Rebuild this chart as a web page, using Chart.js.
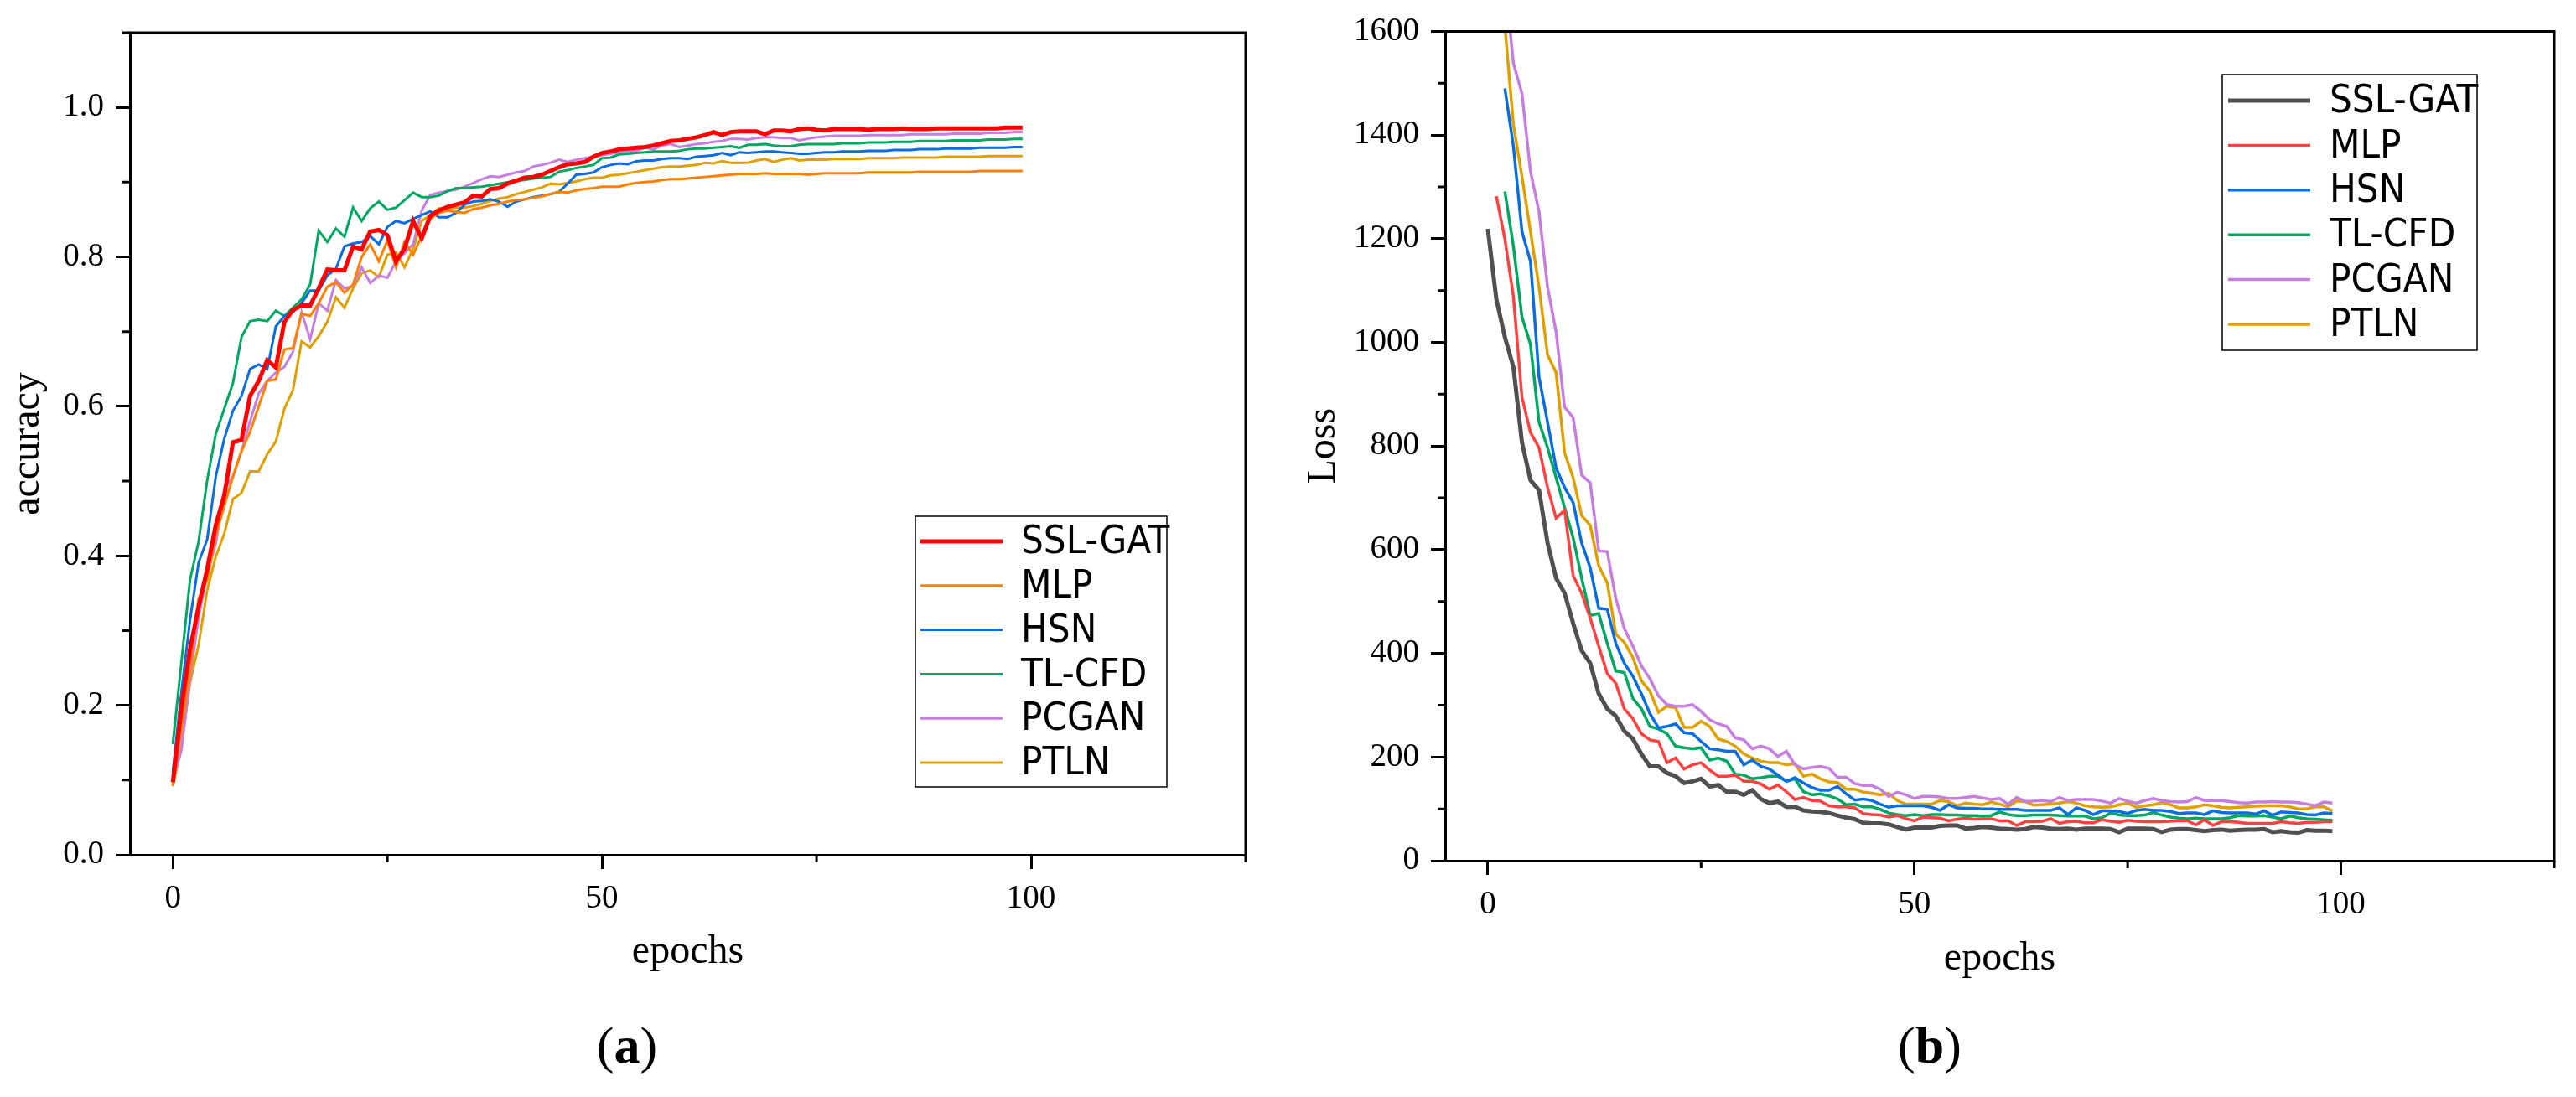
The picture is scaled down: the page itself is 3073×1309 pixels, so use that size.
<!DOCTYPE html>
<html>
<head>
<meta charset="utf-8">
<script src="https://cdn.jsdelivr.net/npm/chart.js@4.4.1/dist/chart.umd.min.js"></script>
<style>
  body { margin: 0; background: #fff; width: 3073px; height: 1309px; overflow: hidden; position: relative; }
  .panel { position: absolute; top: 0; height: 1309px; }
  #panelA { left: 0; width: 1536px; }
  #panelB { left: 1536px; width: 1537px; }
  .sub { position: absolute; top: 1212px; font-family: 'Liberation Serif', serif; font-size: 62px; color: #000; transform: translateX(-50%); }
  .sub b { font-weight: bold; }
</style>
</head>
<body>
<div class="panel" id="panelA"><canvas id="chartA"></canvas></div>
<div class="panel" id="panelB"><canvas id="chartB"></canvas></div>
<div class="sub" style="left:748px">(<b>a</b>)</div>
<div class="sub" style="left:2302px">(<b>b</b>)</div>
<script>
'use strict';

let epochs = [];
for (let i = 0; i < 100; i++) epochs.push(i);

let seriesNames = ['SSL-GAT', 'MLP', 'HSN', 'TL-CFD', 'PCGAN', 'PTLN'];

// (a) accuracy
let accSSL = [0.097,0.196,0.275,0.332,0.382,0.441,0.481,0.552,0.555,0.614,
  0.634,0.662,0.652,0.713,0.729,0.735,0.735,0.758,0.783,0.782,
  0.782,0.814,0.810,0.834,0.836,0.829,0.794,0.811,0.848,0.825,
  0.855,0.862,0.867,0.870,0.873,0.882,0.881,0.891,0.892,0.898,
  0.902,0.906,0.907,0.910,0.915,0.920,0.924,0.925,0.927,0.934,
  0.939,0.941,0.944,0.945,0.946,0.947,0.949,0.952,0.955,0.956,
  0.958,0.960,0.963,0.967,0.963,0.967,0.968,0.968,0.968,0.964,
  0.969,0.969,0.968,0.971,0.972,0.970,0.969,0.971,0.971,0.971,
  0.971,0.970,0.971,0.971,0.971,0.972,0.971,0.971,0.971,0.972,
  0.972,0.972,0.972,0.972,0.972,0.972,0.972,0.973,0.973,0.973];
let accMLP = [0.092,0.168,0.247,0.343,0.368,0.427,0.467,0.506,0.540,0.566,
  0.600,0.634,0.636,0.676,0.678,0.724,0.721,0.738,0.760,0.766,
  0.752,0.763,0.800,0.817,0.794,0.822,0.786,0.820,0.803,0.828,
  0.851,0.859,0.862,0.860,0.859,0.864,0.866,0.869,0.871,0.874,
  0.876,0.877,0.879,0.881,0.884,0.887,0.886,0.889,0.891,0.892,
  0.894,0.894,0.894,0.897,0.899,0.900,0.901,0.903,0.904,0.904,
  0.905,0.906,0.907,0.908,0.909,0.910,0.911,0.911,0.911,0.912,
  0.911,0.911,0.911,0.911,0.910,0.911,0.912,0.912,0.912,0.912,
  0.912,0.913,0.913,0.913,0.913,0.913,0.913,0.914,0.914,0.914,
  0.914,0.914,0.914,0.914,0.915,0.915,0.915,0.915,0.915,0.915];
let accHSN = [0.111,0.218,0.314,0.391,0.422,0.506,0.557,0.594,0.614,0.650,
  0.656,0.650,0.707,0.721,0.726,0.738,0.755,0.755,0.775,0.784,
  0.814,0.818,0.820,0.828,0.817,0.840,0.848,0.845,0.851,0.856,
  0.861,0.853,0.853,0.859,0.870,0.874,0.875,0.877,0.874,0.867,
  0.874,0.877,0.880,0.882,0.884,0.887,0.898,0.910,0.911,0.913,
  0.920,0.923,0.925,0.924,0.928,0.929,0.929,0.931,0.932,0.932,
  0.931,0.934,0.935,0.936,0.939,0.936,0.940,0.939,0.940,0.941,
  0.941,0.940,0.939,0.938,0.938,0.939,0.940,0.940,0.941,0.941,
  0.941,0.942,0.942,0.942,0.943,0.943,0.943,0.944,0.944,0.944,
  0.945,0.945,0.945,0.945,0.946,0.946,0.946,0.946,0.947,0.947];
let accTL = [0.148,0.258,0.368,0.419,0.501,0.563,0.597,0.631,0.693,0.714,
  0.716,0.714,0.728,0.721,0.732,0.743,0.763,0.835,0.820,0.838,
  0.827,0.866,0.848,0.865,0.874,0.863,0.866,0.876,0.886,0.880,
  0.880,0.882,0.888,0.892,0.892,0.893,0.894,0.896,0.898,0.900,
  0.902,0.903,0.905,0.906,0.907,0.914,0.916,0.919,0.921,0.923,
  0.932,0.933,0.937,0.938,0.939,0.940,0.941,0.941,0.941,0.942,
  0.944,0.945,0.945,0.946,0.947,0.948,0.946,0.950,0.950,0.951,
  0.949,0.948,0.948,0.950,0.951,0.951,0.951,0.951,0.952,0.952,
  0.952,0.953,0.953,0.953,0.954,0.954,0.954,0.955,0.955,0.955,
  0.955,0.956,0.956,0.956,0.956,0.957,0.957,0.957,0.958,0.958];
let accPCGAN = [0.100,0.140,0.236,0.317,0.376,0.416,0.489,0.506,0.540,0.580,
  0.617,0.634,0.645,0.653,0.673,0.726,0.690,0.738,0.728,0.769,
  0.758,0.761,0.786,0.765,0.775,0.772,0.794,0.805,0.817,0.862,
  0.883,0.886,0.888,0.890,0.894,0.899,0.904,0.908,0.907,0.910,
  0.913,0.915,0.921,0.923,0.926,0.930,0.927,0.930,0.932,0.934,
  0.936,0.938,0.940,0.941,0.942,0.946,0.944,0.949,0.951,0.947,
  0.949,0.951,0.952,0.954,0.955,0.958,0.958,0.957,0.959,0.960,
  0.960,0.959,0.959,0.956,0.958,0.960,0.961,0.962,0.962,0.962,
  0.962,0.963,0.963,0.963,0.963,0.963,0.964,0.964,0.964,0.964,
  0.964,0.965,0.965,0.965,0.965,0.966,0.966,0.966,0.967,0.967];
let accPTLN = [0.092,0.145,0.230,0.281,0.354,0.399,0.430,0.476,0.484,0.513,
  0.513,0.536,0.553,0.597,0.622,0.687,0.679,0.694,0.713,0.746,
  0.732,0.758,0.778,0.782,0.773,0.803,0.806,0.786,0.811,0.848,
  0.856,0.865,0.864,0.866,0.866,0.868,0.871,0.875,0.878,0.880,
  0.884,0.887,0.890,0.893,0.898,0.897,0.899,0.901,0.904,0.906,
  0.906,0.909,0.910,0.912,0.914,0.916,0.918,0.920,0.921,0.921,
  0.922,0.923,0.926,0.925,0.928,0.926,0.926,0.926,0.929,0.931,
  0.927,0.930,0.932,0.929,0.930,0.930,0.930,0.931,0.931,0.931,
  0.931,0.932,0.932,0.932,0.932,0.933,0.933,0.933,0.933,0.933,
  0.934,0.934,0.934,0.934,0.934,0.935,0.935,0.935,0.935,0.935];

// (b) loss
let lossSSL = [1219,1083,1010,952,807,734,715,613,545,516,
  458,405,381,322,293,279,250,235,206,182,
  182,169,163,150,153,158,143,146,133,133,
  127,136,119,111,114,104,104,97,95,94,
  92,87,83,80,73,72,72,70,65,60,
  64,64,64,67,68,68,62,63,65,64,
  62,61,60,61,65,64,62,61,62,60,
  62,62,62,61,55,62,62,62,61,55,
  60,61,61,59,57,59,60,58,59,60,
  60,61,55,57,55,54,59,58,58,57];
let lossMLP = [null,1282,1199,1088,894,826,797,720,661,676,
  550,516,468,414,361,342,293,274,245,233,
  230,189,198,177,185,189,175,163,163,165,
  153,153,148,138,146,133,118,122,116,115,
  106,104,104,102,91,89,88,84,87,81,
  77,84,83,82,77,80,82,80,81,81,
  77,77,68,75,75,76,81,72,75,76,
  73,73,79,76,74,78,76,75,75,75,
  76,77,77,69,79,68,75,75,74,72,
  72,72,72,75,73,72,74,74,75,75];
let lossHSN = [null,null,1490,1378,1214,1156,933,846,758,720,
  691,613,565,487,485,419,381,356,322,284,
  256,259,264,247,245,230,216,214,211,211,
  185,194,182,177,165,153,160,150,141,136,
  136,143,129,117,119,116,109,103,106,106,
  106,106,103,97,108,102,101,101,100,100,
  99,99,99,97,97,97,97,102,89,102,
  97,89,96,96,95,91,97,99,97,97,
  95,91,92,92,89,96,93,92,92,92,
  90,96,88,94,93,92,89,88,92,91];
let lossTL = [null,null,1291,1185,1049,996,846,797,739,681,
  623,545,473,477,419,366,363,313,293,259,
  254,245,221,218,216,218,194,198,192,167,
  165,158,160,163,163,153,158,133,127,129,
  125,119,108,109,104,104,99,92,89,87,
  89,87,89,89,88,88,87,87,86,87,
  94,89,87,87,88,88,88,87,86,86,
  86,81,83,92,88,87,87,88,93,88,
  84,82,81,82,81,81,81,83,87,86,
  86,87,84,81,86,83,81,80,79,78];
let lossPCGAN = [null,null,1700,1538,1480,1330,1252,1107,1020,875,
  855,744,729,598,596,506,448,414,376,351,
  318,301,298,298,301,288,272,264,259,237,
  233,216,221,216,201,211,185,177,180,182,
  178,161,161,149,145,145,138,124,132,127,
  120,124,124,123,120,120,122,124,121,118,
  120,109,122,114,115,116,114,122,116,118,
  118,118,115,111,120,115,111,116,120,116,
  114,113,114,122,116,116,116,114,112,111,
  113,113,114,113,113,112,109,106,113,111];
let lossPTLN = [null,null,1610,1420,1320,1214,1107,976,942,787,
  739,666,647,569,536,437,421,392,347,327,
  286,298,295,257,257,269,259,235,230,221,
  206,198,192,189,189,185,187,163,167,158,
  152,151,138,138,132,130,127,130,116,109,
  109,109,109,116,114,106,111,109,108,113,
  109,104,115,114,107,108,109,111,114,111,
  106,104,103,104,108,111,103,106,108,112,
  108,102,102,104,108,106,103,102,103,104,
  105,106,106,106,104,100,100,104,104,96];

// ticks
let epochTicks = [0, 50, 100];
let epochMinor = [25, 75, 125];
let accTicks = [0, 0.2, 0.4, 0.6, 0.8, 1.0];
let accTickLabels = ['0.0', '0.2', '0.4', '0.6', '0.8', '1.0'];
let accMinor = [0.1, 0.3, 0.5, 0.7, 0.9, 1.1];
let lossTicks = [0, 200, 400, 600, 800, 1000, 1200, 1400, 1600];
let lossMinor = [100, 300, 500, 700, 900, 1100, 1300, 1500];

let coloursA = ['#ff0000', '#ff8000', '#0a6ee0', '#00a862', '#c67ee0', '#e0a000'];
let coloursB = ['#505050', '#ff4040', '#0a6ee0', '#00a862', '#c67ee0', '#e0a000'];
let widthsA = [5, 3, 3, 3, 3, 3];
let widthsB = [5, 3.5, 3.5, 3.5, 3.5, 3.5];

const serif = "'Liberation Serif', 'Times New Roman', serif";
const narrow = "'Liberation Sans Narrow', 'DejaVu Sans Condensed', 'Arial Narrow', sans-serif";
Chart.defaults.font.family = serif;
Chart.defaults.color = '#000';

function makeDatasets(seriesList, colours, widths) {
  return seriesList.map((values, i) => ({
    label: seriesNames[i],
    data: values,
    borderColor: colours[i],
    backgroundColor: colours[i],
    borderWidth: widths[i],
    pointRadius: 0,
    fill: false,
    tension: 0
  }));
}

// frame on top and right, plus the short minor ticks
const framePlugin = {
  id: 'frame',
  afterDraw(chart, args, opts) {
    const ctx = chart.ctx;
    const a = chart.chartArea;
    ctx.save();
    ctx.strokeStyle = '#000';
    ctx.lineWidth = 3;
    ctx.beginPath();
    ctx.moveTo(a.left - 1.5, a.top);
    ctx.lineTo(a.right, a.top);
    ctx.lineTo(a.right, a.bottom + 1.5);
    ctx.stroke();
    let xs = chart.scales.x;
    let ys = chart.scales.y;
    ctx.beginPath();
    opts.xMinor.forEach(v => {
      let px = xs.getPixelForValue(v);
      ctx.moveTo(px, a.bottom);
      ctx.lineTo(px, a.bottom + 9);
    });
    opts.yMinor.forEach(v => {
      let py = ys.getPixelForValue(v);
      ctx.moveTo(a.left, py);
      ctx.lineTo(a.left - 9, py);
    });
    ctx.stroke();
    ctx.restore();
  }
};

const boxLegend = {
  id: 'boxLegend',
  afterDraw(chart, args, opts) {
    const ctx = chart.ctx;
    ctx.save();
    ctx.fillStyle = '#fff';
    ctx.fillRect(opts.x, opts.y, opts.w, opts.h);
    ctx.strokeStyle = '#000';
    ctx.lineWidth = 1.5;
    ctx.strokeRect(opts.x, opts.y, opts.w, opts.h);
    ctx.font = opts.font;
    ctx.textBaseline = 'middle';
    chart.data.datasets.forEach((ds, i) => {
      let y = opts.rowY + i * opts.rowGap;
      ctx.strokeStyle = ds.borderColor;
      ctx.lineWidth = ds.borderWidth;
      ctx.beginPath();
      ctx.moveTo(opts.lineX, y);
      ctx.lineTo(opts.lineX + opts.lineLen, y);
      ctx.stroke();
      ctx.fillStyle = '#000';
      ctx.fillText(ds.label, opts.textX, y + 2);
    });
    ctx.restore();
  }
};

function axisX(titlePadding, height) {
  return {
    type: 'linear',
    min: -5,
    max: 125,
    afterBuildTicks: s => { s.ticks = epochTicks.map(v => ({ value: v })); },
    afterFit: s => { s.height = height; },
    border: { display: true, color: '#000', width: 3 },
    grid: { drawOnChartArea: false, drawTicks: true, tickLength: 17, tickWidth: 3, tickColor: '#000' },
    ticks: { font: { size: 39 }, padding: 12, maxRotation: 0, color: '#000' },
    title: { display: true, text: 'epochs', font: { size: 48 }, padding: { top: 0, bottom: titlePadding }, color: '#000' }
  };
}

function axisY(min, max, tickValues, labels, width, title, titlePad) {
  return {
    type: 'linear',
    min: min,
    max: max,
    afterBuildTicks: s => { s.ticks = tickValues.map(v => ({ value: v })); },
    afterFit: s => { s.width = width; },
    border: { display: true, color: '#000', width: 3 },
    grid: { drawOnChartArea: false, drawTicks: true, tickLength: 17, tickWidth: 3, tickColor: '#000' },
    ticks: {
      font: { size: 39 },
      padding: 14,
      color: '#000',
      callback: (v, i) => labels ? labels[i] : String(v)
    },
    title: { display: true, text: title, font: { size: 48 }, padding: { top: titlePad, bottom: 0 }, color: '#000' }
  };
}

let chartA = new Chart(document.getElementById('chartA'), {
  type: 'line',
  data: {
    labels: epochs,
    datasets: makeDatasets([accSSL, accMLP, accHSN, accTL, accPCGAN, accPTLN], coloursA, widthsA)
  },
  options: {
    responsive: true,
    maintainAspectRatio: false,
    animation: false,
    layout: { padding: { left: 0, top: 39, right: 50, bottom: 144 } },
    scales: {
      x: axisX(0, 145),
      y: axisY(0, 1.1, accTicks, accTickLabels, 155, 'accuracy', 5)
    },
    plugins: {
      legend: { display: false },
      tooltip: { enabled: false },
      frame: { xMinor: epochMinor, yMinor: accMinor },
      boxLegend: { x: 1092, y: 616, w: 300, h: 323, rowY: 646, rowGap: 52.8, lineX: 1098, lineLen: 98, textX: 1218, font: '47px ' + narrow }
    }
  },
  plugins: [framePlugin, boxLegend]
});

let chartB = new Chart(document.getElementById('chartB'), {
  type: 'line',
  data: {
    labels: epochs,
    datasets: makeDatasets([lossSSL, lossMLP, lossHSN, lossTL, lossPCGAN, lossPTLN], coloursB, widthsB)
  },
  options: {
    responsive: true,
    maintainAspectRatio: false,
    animation: false,
    layout: { padding: { left: 0, top: 37, right: 26, bottom: 136 } },
    scales: {
      x: axisX(0, 146),
      y: axisY(0, 1600, lossTicks, null, 188, 'Loss', 15)
    },
    plugins: {
      legend: { display: false },
      tooltip: { enabled: false },
      frame: { xMinor: epochMinor, yMinor: lossMinor },
      boxLegend: { x: 1115, y: 89, w: 304, h: 329, rowY: 120, rowGap: 53.4, lineX: 1122, lineLen: 98, textX: 1243, font: '47px ' + narrow }
    }
  },
  plugins: [framePlugin, boxLegend]
});
</script>
</body>
</html>
